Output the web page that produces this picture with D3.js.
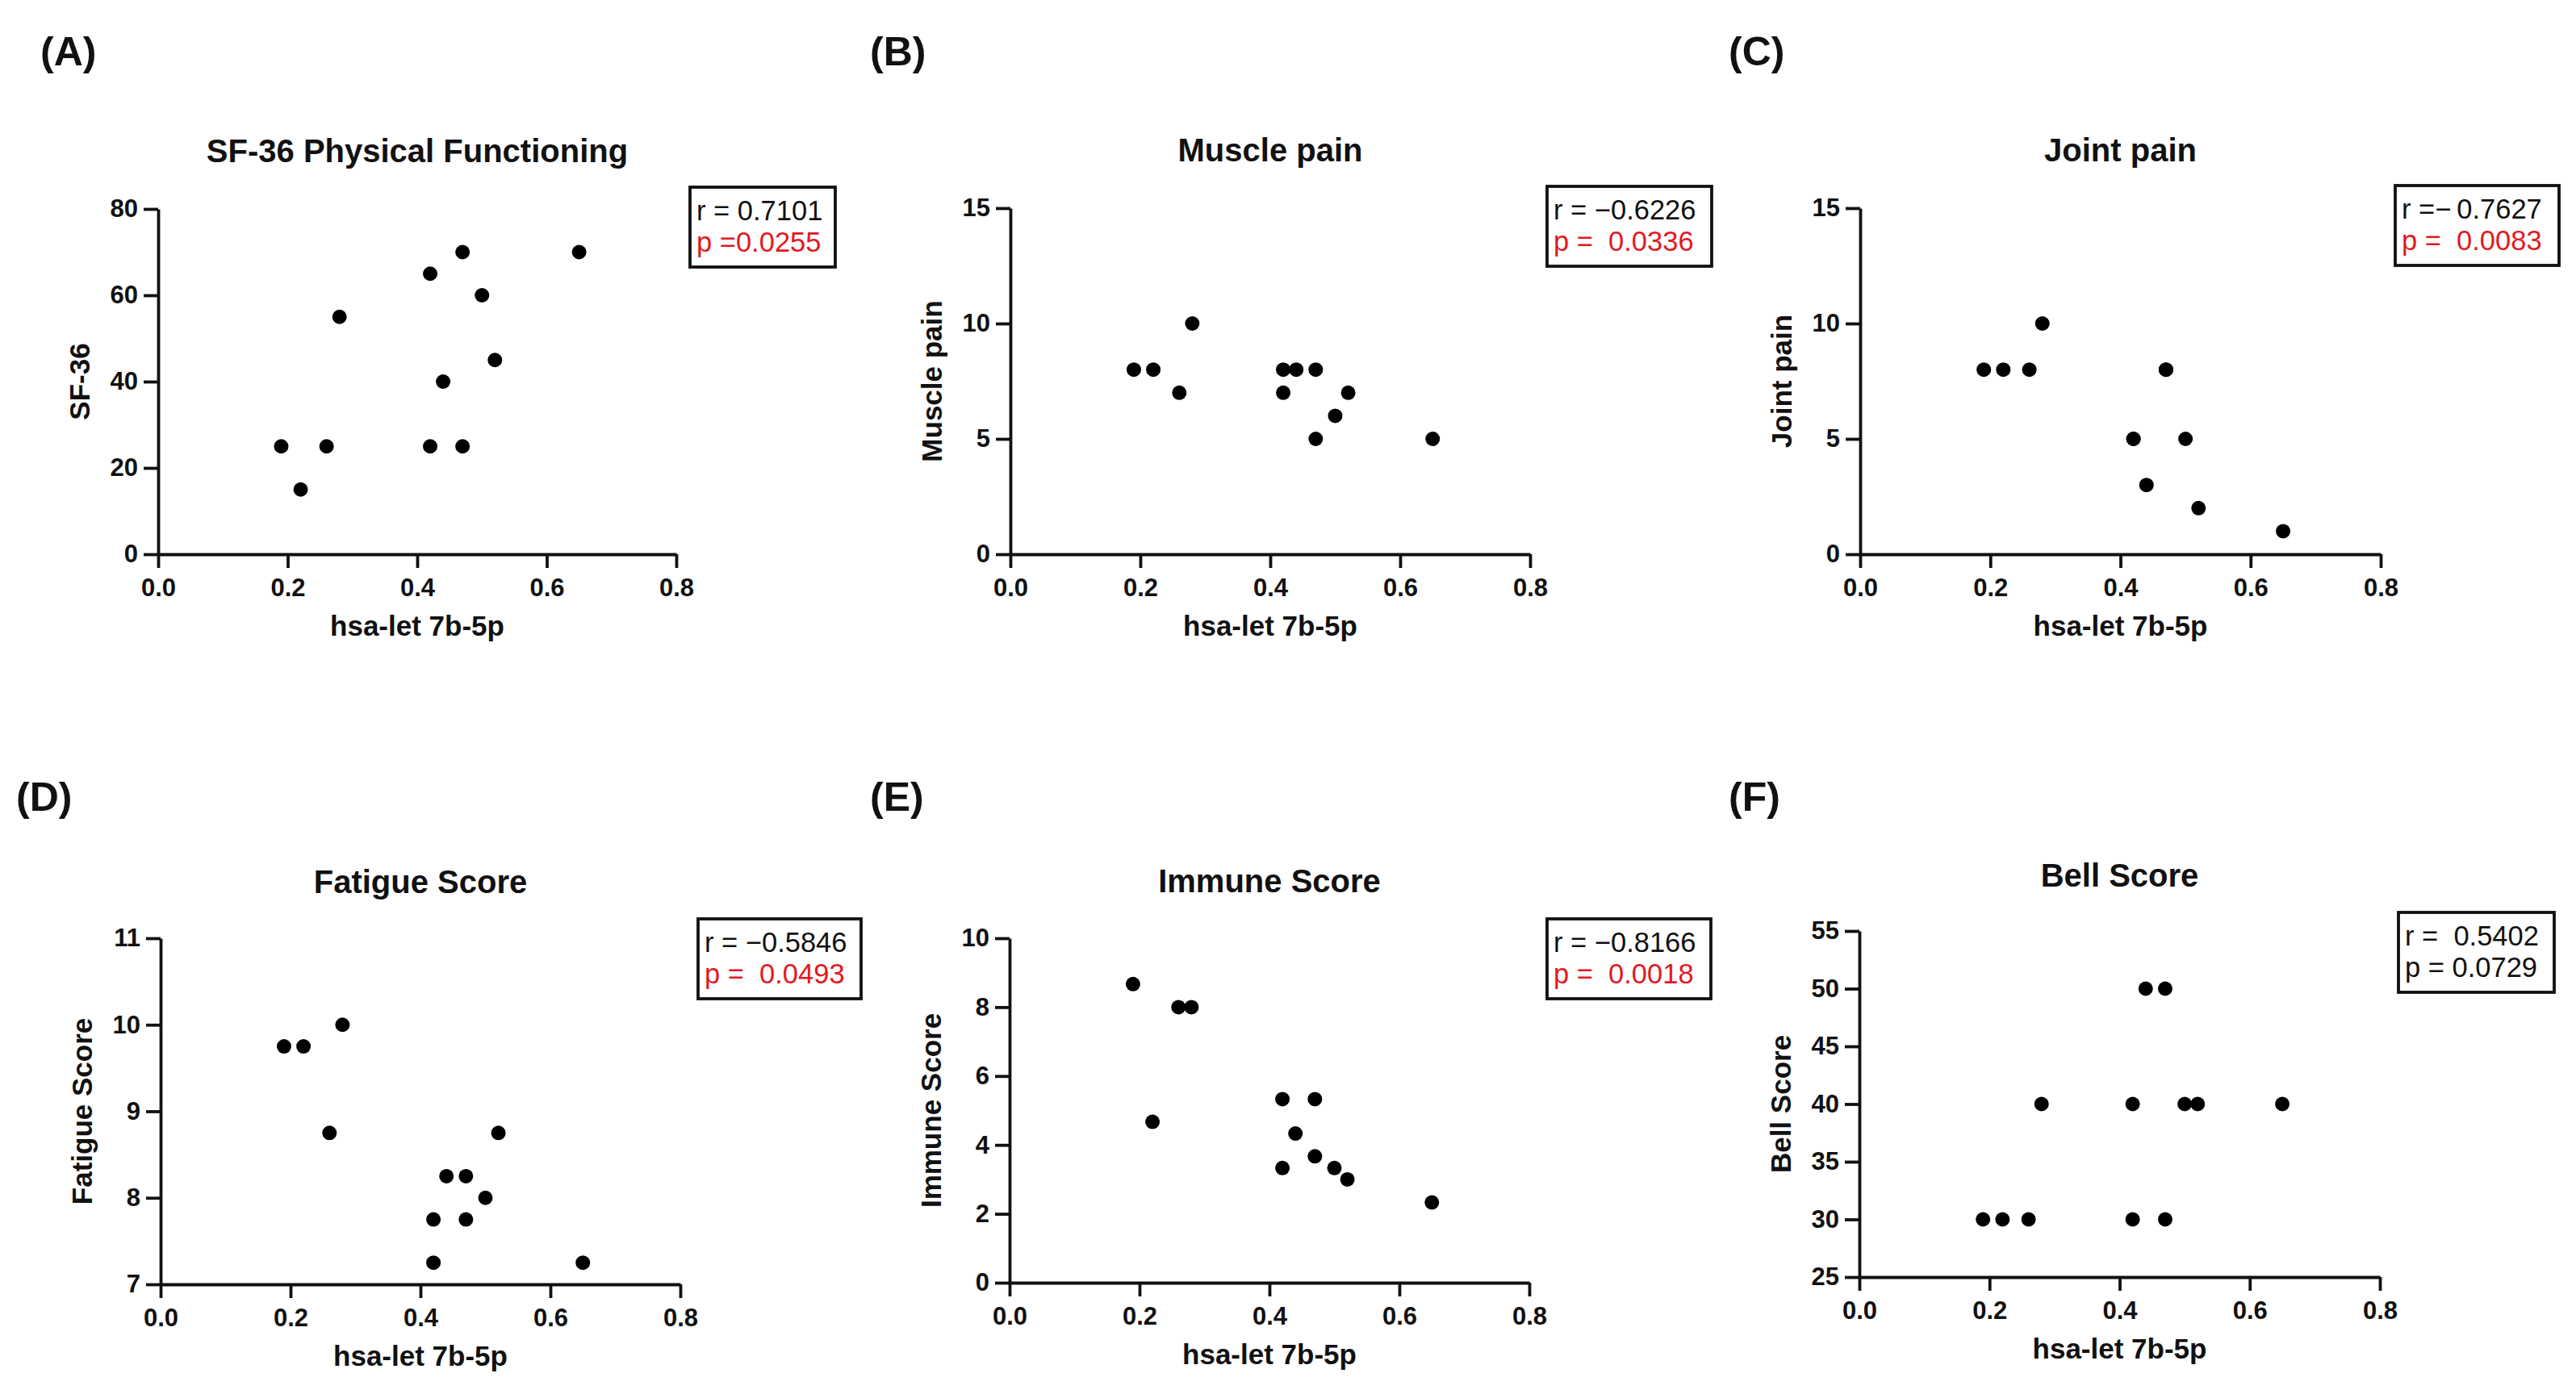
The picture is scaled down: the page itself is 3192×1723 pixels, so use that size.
<!DOCTYPE html>
<html>
<head>
<meta charset="utf-8">
<script src="https://cdn.jsdelivr.net/npm/d3@7"></script>
<style>
  html, body { margin: 0; padding: 0; background: #fff; }
  svg { display: block; }
  text { font-family: "Liberation Sans", Arial, sans-serif; }
</style>
</head>
<body>
<svg id="chart" width="3192" height="1723"></svg>
<script>
// ---------------- DATA ----------------
const panelLetters = ["(A)", "(B)", "(C)", "(D)", "(E)", "(F)"];
const panelTitles = ["SF-36 Physical Functioning", "Muscle pain", "Joint pain", "Fatigue Score", "Immune Score", "Bell Score"];
const yAxisTitles = ["SF-36", "Muscle pain", "Joint pain", "Fatigue Score", "Immune Score", "Bell Score"];
const xAxisTitle = "hsa-let 7b-5p";

const xTicks = [0.0, 0.2, 0.4, 0.6, 0.8];
const mirValues = [0.19, 0.22, 0.26, 0.28, 0.42, 0.42, 0.44, 0.47, 0.47, 0.50, 0.52, 0.65];

const sf36Values    = [25, 15, 25, 55, 65, 25, 40, 70, 25, 60, 45, 70];
const musclePain    = [8, 8, 7, 10, 8, 7, 8, 8, 5, 6, 7, 5];
const jointPain     = [8, 8, 8, 10, 5, 5, 3, 8, 8, 5, 2, 1];
const fatigueScore  = [9.75, 9.75, 8.75, 10, 7.75, 7.25, 8.25, 8.25, 7.75, 8, 8.75, 7.25];
const immuneScore   = [8.67, 4.67, 8, 8, 5.33, 3.33, 4.33, 5.33, 3.67, 3.33, 3.0, 2.33];
const bellScore     = [30, 30, 30, 40, 40, 30, 50, 50, 30, 40, 40, 40];
const seriesValues = [sf36Values, musclePain, jointPain, fatigueScore, immuneScore, bellScore];

const yDomains = [[0, 80], [0, 15], [0, 15], [7, 11], [0, 10], [25, 55]];
const yTickSets = [
  [0, 20, 40, 60, 80],
  [0, 5, 10, 15],
  [0, 5, 10, 15],
  [7, 8, 9, 10, 11],
  [0, 2, 4, 6, 8, 10],
  [25, 30, 35, 40, 45, 50, 55]
];

const rLabels = ["r = 0.7101", "r = \u22120.6226", "r =\u2212\u20090.7627", "r = \u22120.5846", "r = \u22120.8166", "r =  0.5402"];
const pLabels = ["p =0.0255", "p =  0.0336", "p =  0.0083", "p =  0.0493", "p =  0.0018", "p = 0.0729"];
const pSignificant = [true, true, true, true, true, false];

// ---------------- LAYOUT ----------------
// plot rectangles: left, right, top, bottom (pixels)
const plotRects = [
  {l: 196,  r: 838,  t: 259,  b: 687},
  {l: 1252, r: 1896, t: 258,  b: 687},
  {l: 2305, r: 2950, t: 258,  b: 687},
  {l: 199,  r: 843,  t: 1163, b: 1592},
  {l: 1251, r: 1895, t: 1163, b: 1590},
  {l: 2304, r: 2949, t: 1154, b: 1583}
];
const letterPos = [
  {x: 50, y: 81}, {x: 1078, y: 81}, {x: 2142, y: 81},
  {x: 20, y: 1005}, {x: 1078, y: 1005}, {x: 2142, y: 1005}
];
const titleBaseline = [201, 200, 200, 1107, 1106, 1099];
const boxPos = [
  {x: 855, y: 232, w: 180}, {x: 1917, y: 231, w: 204}, {x: 2968, y: 230, w: 203},
  {x: 865, y: 1139, w: 202}, {x: 1917, y: 1139, w: 203}, {x: 2972, y: 1131, w: 193}
];

const RED = "#e3191f";
const svg = d3.select("#chart");
svg.append("rect").attr("width", 3192).attr("height", 1723).attr("fill", "#fff");

panelTitles.forEach((title, i) => {
  const R = plotRects[i];
  const g = svg.append("g");
  const x = d3.scaleLinear().domain([0, 0.8]).range([R.l, R.r]);
  const y = d3.scaleLinear().domain(yDomains[i]).range([R.b, R.t]);

  // panel letter
  g.append("text").attr("x", letterPos[i].x).attr("y", letterPos[i].y)
    .attr("font-size", 50).attr("font-weight", "bold").attr("fill", "#111")
    .text(panelLetters[i]);

  // title
  g.append("text").attr("x", (R.l + R.r) / 2).attr("y", titleBaseline[i])
    .attr("text-anchor", "middle").attr("font-size", 40).attr("font-weight", "bold")
    .attr("fill", "#111").text(title);

  // axes
  const xAxis = d3.axisBottom(x).tickValues(xTicks).tickFormat(d3.format(".1f"))
    .tickSize(17).tickSizeOuter(0).tickPadding(13);
  const yAxis = d3.axisLeft(y).tickValues(yTickSets[i]).tickFormat(d3.format("d"))
    .tickSize(18).tickSizeOuter(0).tickPadding(7);

  const gx = g.append("g").attr("transform", `translate(0,${R.b})`).call(xAxis);
  const gy = g.append("g").attr("transform", `translate(${R.l},0)`).call(yAxis);
  [gx, gy].forEach(a => {
    a.select(".domain").attr("stroke", "#111").attr("stroke-width", 3.8);
    a.selectAll(".tick line").attr("stroke", "#111").attr("stroke-width", 3.8);
    a.selectAll(".tick text").attr("font-size", 31).attr("font-weight", "bold")
      .attr("fill", "#111").style("font-family", '"Liberation Sans", Arial, sans-serif');
  });

  // axis titles
  g.append("text").attr("x", (R.l + R.r) / 2).attr("y", R.b + 101)
    .attr("text-anchor", "middle").attr("font-size", 35).attr("font-weight", "bold")
    .attr("fill", "#111").text(xAxisTitle);
  g.append("text")
    .attr("transform", `translate(${R.l - 98},${(R.t + R.b) / 2}) rotate(-90)`)
    .attr("dy", "0.36em").attr("text-anchor", "middle").attr("font-size", 35)
    .attr("font-weight", "bold").attr("fill", "#111").text(yAxisTitles[i]);

  // points
  const pts = mirValues.map((m, k) => ({x: m, y: seriesValues[i][k]}));
  g.append("g").selectAll("circle").data(pts).join("circle")
    .attr("cx", d => x(d.x)).attr("cy", d => y(d.y)).attr("r", 9).attr("fill", "#000");

  // stats box
  const B = boxPos[i];
  const bg = g.append("g");
  bg.append("rect").attr("x", B.x).attr("y", B.y).attr("width", B.w).attr("height", 99)
    .attr("fill", "#fff").attr("stroke", "#111").attr("stroke-width", 3.8);
  bg.append("text").attr("x", B.x + 8).attr("y", B.y + 41)
    .attr("font-size", 34.5).attr("fill", "#111").style("white-space", "pre")
    .attr("xml:space", "preserve").text(rLabels[i]);
  bg.append("text").attr("x", B.x + 8).attr("y", B.y + 80)
    .attr("font-size", 34.5).attr("fill", pSignificant[i] ? RED : "#111").style("white-space", "pre")
    .attr("xml:space", "preserve").text(pLabels[i]);
});
</script>
</body>
</html>
